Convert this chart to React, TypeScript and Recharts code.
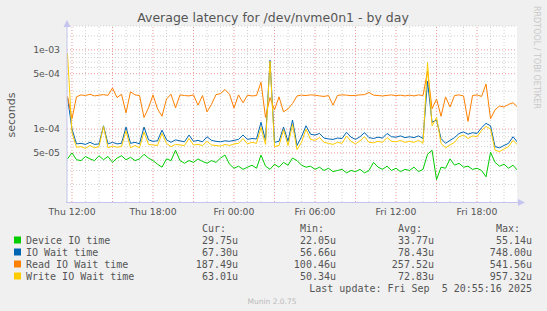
import React from "react";
import { LineChart, Line, XAxis, YAxis, ReferenceLine, CartesianGrid } from "recharts";

// samples every 20 minutes, values in microseconds
const START_HOUR = 11 + 40 / 60; // Thu 11:40
const STEP_HOURS = 20 / 60;

const deviceIo = [
  42, 50, 41, 40, 45, 42, 40, 46, 41, 45,
  38, 43, 46, 41, 44, 40, 42, 48, 43, 40,
  36, 33, 42, 40, 54, 40, 37, 40, 38, 42,
  39, 37, 40, 38, 43, 47, 36, 32, 34, 31,
  33, 35, 32, 47, 34, 31, 36, 33, 38, 35,
  43, 40, 35, 33, 34, 31, 33, 30, 32, 29,
  30, 31, 28, 30, 29, 31, 28, 30, 38, 33,
  31, 34, 30, 32, 29, 31, 30, 33, 29, 31,
  48, 54, 23, 33, 32, 42, 35, 37, 33, 34,
  31, 32, 30, 25, 51, 38, 34, 36, 32, 35,
  30,
];

const ioWait = [
  250, 100, 65, 66, 64, 68, 64, 65, 110, 65,
  68, 65, 66, 106, 66, 68, 65, 106, 73, 70,
  71, 97, 73, 68, 73, 71, 69, 84, 70, 72,
  69, 80, 72, 70, 69, 71, 70, 72, 74, 84,
  74, 76, 75, 122, 72, 740, 68, 70, 106, 70,
  130, 62, 80, 110, 86, 84, 88, 77, 75, 74,
  77, 76, 91, 79, 74, 80, 90, 78, 76, 79,
  77, 88, 80, 79, 82, 78, 80, 78, 82, 76,
  400, 122, 130, 76, 66, 72, 78, 88, 92, 86,
  90, 88, 104, 118, 110, 60, 58, 62, 66, 80,
  68,
];

const readWait = [
  260, 135, 255, 270, 265, 275, 262, 268, 272, 266,
  330, 250, 275, 160, 295, 270, 265, 140, 185, 270,
  180, 145, 240, 275, 185, 270, 265, 262, 270, 200,
  265, 165, 205, 272, 280, 315, 275, 185, 270, 215,
  268, 262, 265, 390, 140, 250, 175, 255, 165, 180,
  210, 262, 268, 265, 270, 268, 262, 258, 265, 200,
  266, 270, 268, 264, 266, 270, 272, 290, 268, 265,
  262, 266, 270, 264, 268, 262, 268, 262, 270, 265,
  540, 180, 240, 145, 255, 190, 265, 270, 262, 125,
  265, 270, 258, 370, 135, 175, 195, 190, 205, 215,
  190,
];

const writeWait = [
  900, 90, 59, 60, 57, 62, 58, 60, 108, 58,
  61, 59, 60, 95, 58, 62, 58, 92, 64, 63,
  62, 88, 66, 60, 64, 63, 62, 76, 63, 64,
  62, 70, 63, 62, 61, 64, 62, 65, 66, 76,
  65, 68, 66, 105, 64, 720, 60, 62, 98, 62,
  115, 55, 68, 100, 74, 72, 78, 68, 66, 64,
  68, 66, 82, 70, 65, 71, 80, 68, 67, 70,
  68, 78, 70, 69, 72, 68, 70, 68, 72, 66,
  690, 110, 140, 66, 58, 63, 68, 80, 84, 76,
  82, 80, 96, 108, 100, 54, 52, 56, 60, 72,
  63,
];

const xTicks = [12, 18, 24, 30, 36, 42];
const xTickLabels = ["Thu 12:00", "Thu 18:00", "Fri 00:00", "Fri 06:00", "Fri 12:00", "Fri 18:00"];
const yTicks = [5e-5, 1e-4, 5e-4, 1e-3];
const yMinor = [2e-5, 3e-5, 4e-5, 6e-5, 7e-5, 8e-5, 9e-5, 2e-4, 3e-4, 4e-4, 6e-4, 7e-4, 8e-4, 9e-4, 1.5e-3, 2e-3];
const hourLines = Array.from({ length: 33 }, (_, i) => 12 + i);

const legendRows = [
  { key: "device", name: "Device IO time", color: "#00cc00", cur: "29.75u", min: "22.05u", avg: "33.77u", max: "55.14u" },
  { key: "iowait", name: "IO Wait time", color: "#0066b3", cur: "67.30u", min: "56.66u", avg: "78.43u", max: "748.00u" },
  { key: "read", name: "Read IO Wait time", color: "#ff8000", cur: "187.49u", min: "100.46u", avg: "257.52u", max: "541.56u" },
  { key: "write", name: "Write IO Wait time", color: "#ffcc00", cur: "63.01u", min: "50.34u", avg: "72.83u", max: "957.32u" },
];

const data = deviceIo.map((v, i) => ({
  t: START_HOUR + i * STEP_HOURS,
  device: v * 1e-6,
  iowait: ioWait[i] * 1e-6,
  read: readWait[i] * 1e-6,
  write: writeWait[i] * 1e-6,
}));

const W = 547;
const H = 311;
const SANS = "DejaVu Sans, sans-serif";
const MONO = "DejaVu Sans Mono, monospace";
const AXIS = "#c4c4ee";

function fmtExp(v: number) {
  return v.toExponential(0).replace(/e([+-])(\d)$/, "e$10$2");
}

export default function App() {
  const tickStyle = { fontSize: 9.3, fill: "#555", fontFamily: SANS };
  return (
    <div style={{ position: "absolute", left: 0, top: 0, width: W, height: H, background: "#f0f0f0" }}>
      <LineChart width={W} height={H} data={data} margin={{ top: 26, right: 30, bottom: 79, left: 7 }}>
        <CartesianGrid fill="#ffffff" fillOpacity={1} horizontal={false} vertical={false} stroke="none" />
        <XAxis
          dataKey="t"
          type="number"
          domain={[11.63, 44.96]}
          allowDataOverflow
          ticks={xTicks}
          interval={0}
          tickFormatter={(v: number) => xTickLabels[xTicks.indexOf(v)] ?? ""}
          axisLine={false}
          tickLine={false}
          tickSize={0}
          tickMargin={6}
          height={30}
          tick={tickStyle}
        />
        <YAxis
          type="number"
          scale="log"
          domain={[1.2e-5, 2e-3]}
          allowDataOverflow
          ticks={yTicks}
          interval={0}
          tickFormatter={fmtExp}
          axisLine={false}
          tickLine={false}
          tickSize={0}
          tickMargin={7}
          width={60}
          tick={tickStyle}
        />
        {yMinor.map((v) => (
          <ReferenceLine key={"ym" + v} y={v} stroke="#d0d0d0" strokeDasharray="1 2" />
        ))}
        {hourLines.map((h) => (
          <ReferenceLine
            key={"x" + h}
            x={h}
            stroke={h % 3 === 0 ? "#f09a9a" : "#d0d0d0"}
            strokeDasharray="1 2"
          />
        ))}
        {yTicks.map((v) => (
          <ReferenceLine key={"yM" + v} y={v} stroke="#f09a9a" strokeDasharray="1 2" />
        ))}
        <Line type="linear" dataKey="device" stroke="#00cc00" strokeWidth={1} dot={false} isAnimationActive={false} />
        <Line type="linear" dataKey="iowait" stroke="#0066b3" strokeWidth={1} dot={false} isAnimationActive={false} />
        <Line type="linear" dataKey="read" stroke="#ff8000" strokeWidth={1} dot={false} isAnimationActive={false} />
        <Line type="linear" dataKey="write" stroke="#ffcc00" strokeWidth={1} dot={false} isAnimationActive={false} />
      </LineChart>

      <svg width={W} height={H} style={{ position: "absolute", left: 0, top: 0, pointerEvents: "none" }}>
        {/* axes with arrows */}
        <line x1={67} y1={202.5} x2={67} y2={24} stroke={AXIS} />
        <polygon points="63.5,27 70.5,27 67,20" fill={AXIS} />
        <line x1={66} y1={202.5} x2={519} y2={202.5} stroke={AXIS} />
        <polygon points="518,199 518,206 525,202.5" fill={AXIS} />

        <text x={273} y={22} textAnchor="middle" fontFamily={SANS} fontSize={12.5} fill="#555">
          Average latency for /dev/nvme0n1 - by day
        </text>
        <text
          x={15}
          y={115}
          textAnchor="middle"
          fontFamily={SANS}
          fontSize={11}
          fill="#555"
          transform="rotate(-90 15 115)"
        >
          seconds
        </text>
        <text x={534} y={6} fontFamily={SANS} fontSize={8} fill="#c8c8c8" transform="rotate(90 534 6)">
          RRDTOOL / TOBI OETIKER
        </text>

        {/* legend */}
        <g fontFamily={MONO} fontSize={10} fill="#555">
          <text x={202} y={232}>Cur:</text>
          <text x={300} y={232}>Min:</text>
          <text x={398} y={232}>Avg:</text>
          <text x={496} y={232}>Max:</text>
          {legendRows.map((r, i) => {
            const y = 244 + i * 12;
            return (
              <g key={r.key}>
                <rect x={14} y={y - 7.5} width={7} height={7} fill={r.color} />
                <text x={26} y={y}>{r.name}</text>
                <text x={238} y={y} textAnchor="end">{r.cur}</text>
                <text x={336} y={y} textAnchor="end">{r.min}</text>
                <text x={434} y={y} textAnchor="end">{r.avg}</text>
                <text x={532} y={y} textAnchor="end">{r.max}</text>
              </g>
            );
          })}
          <text x={532} y={292} textAnchor="end" style={{ whiteSpace: "pre" }}>
            {"Last update: Fri Sep  5 20:55:16 2025"}
          </text>
        </g>
        <text x={272} y={304} textAnchor="middle" fontFamily={SANS} fontSize={7.5} fill="#bbbbbb">
          Munin 2.0.75
        </text>
      </svg>
    </div>
  );
}
